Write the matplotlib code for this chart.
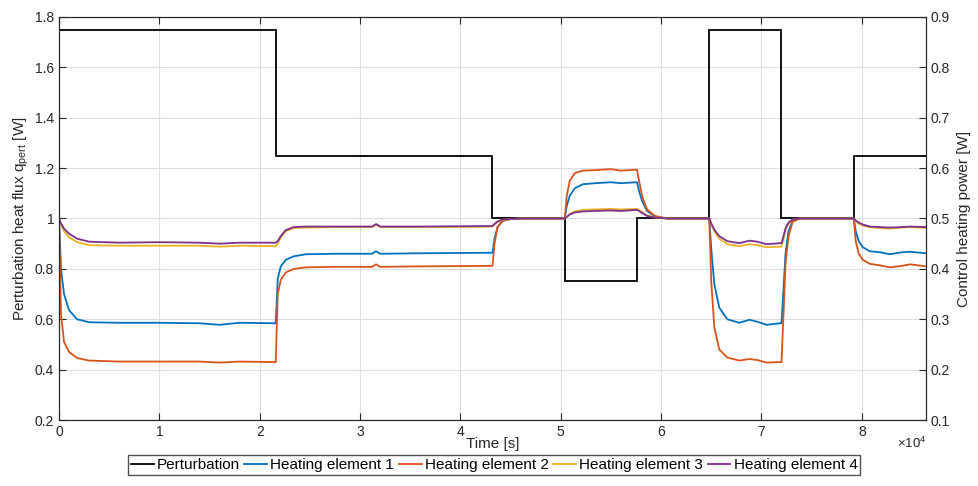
import matplotlib
matplotlib.use("Agg")
import matplotlib.pyplot as plt
from matplotlib.ticker import FuncFormatter

plt.rcParams['font.family'] = ['Liberation Sans', 'DejaVu Sans']
plt.rcParams['mathtext.fontset'] = 'custom'
plt.rcParams['mathtext.rm'] = 'Liberation Sans'
plt.rcParams['mathtext.it'] = 'Liberation Sans'

# --- perturbation schedule (left axis, W) ---
pert_edges = [0, 21600, 43200, 50400, 57600, 64800, 72000, 79200, 86400]
pert_levels = [1.75, 1.25, 1.0, 0.75, 1.0, 1.75, 1.0, 1.25]

# --- control heating power (right axis, W) ---
time_s = [
    0, 200, 500, 1000, 1800, 3000, 6000, 10000, 14000, 16000, 18000, 21500,
    21600, 21800, 22100, 22600, 23400, 24600, 27600, 31200, 31600, 32000, 36000, 43100,
    43200, 43400, 43700, 44200, 45000, 46200, 50300,
    50400, 50600, 50900, 51400, 52200, 53400, 55000, 56000, 57500,
    57600, 57800, 58100, 58600, 59400, 60600, 64700,
    64800, 65000, 65300, 65800, 66600, 67800, 68800, 69600, 70500, 71900,
    72000, 72200, 72400, 72700, 73100, 73800, 79100,
    79200, 79400, 79700, 80100, 80800, 81800, 82800, 84000, 84800, 86400,
]
heater_1 = [
    0.500, 0.400, 0.350, 0.318, 0.300, 0.294, 0.293, 0.293, 0.292, 0.289, 0.293, 0.292,
    0.292, 0.380, 0.405, 0.418, 0.425, 0.429, 0.430, 0.430, 0.435, 0.430, 0.431, 0.432,
    0.432, 0.460, 0.483, 0.495, 0.499, 0.500, 0.500,
    0.500, 0.525, 0.545, 0.560, 0.568, 0.570, 0.572, 0.570, 0.572,
    0.572, 0.555, 0.535, 0.515, 0.504, 0.500, 0.500,
    0.500, 0.440, 0.370, 0.323, 0.300, 0.293, 0.299, 0.295, 0.289, 0.292,
    0.292, 0.360, 0.430, 0.475, 0.495, 0.500, 0.500,
    0.500, 0.475, 0.455, 0.443, 0.435, 0.433, 0.429, 0.433, 0.434, 0.431,
]
heater_2 = [
    0.500, 0.310, 0.255, 0.235, 0.223, 0.218, 0.216, 0.216, 0.216, 0.214, 0.216, 0.215,
    0.215, 0.350, 0.378, 0.393, 0.400, 0.403, 0.404, 0.404, 0.409, 0.404, 0.405, 0.406,
    0.406, 0.450, 0.483, 0.495, 0.499, 0.500, 0.500,
    0.500, 0.545, 0.575, 0.590, 0.595, 0.596, 0.598, 0.595, 0.597,
    0.597, 0.575, 0.545, 0.518, 0.505, 0.500, 0.500,
    0.500, 0.375, 0.285, 0.240, 0.224, 0.218, 0.221, 0.219, 0.214, 0.215,
    0.215, 0.310, 0.410, 0.465, 0.493, 0.500, 0.500,
    0.500, 0.455, 0.430, 0.418, 0.410, 0.407, 0.403, 0.406, 0.409, 0.405,
]
heater_3 = [
    0.500, 0.488, 0.475, 0.463, 0.453, 0.447, 0.446, 0.446, 0.446, 0.444, 0.446, 0.445,
    0.445, 0.450, 0.463, 0.475, 0.481, 0.482, 0.483, 0.483, 0.488, 0.483, 0.483, 0.484,
    0.484, 0.488, 0.493, 0.497, 0.499, 0.500, 0.500,
    0.500, 0.504, 0.509, 0.514, 0.517, 0.518, 0.519, 0.518, 0.519,
    0.519, 0.517, 0.513, 0.506, 0.502, 0.500, 0.500,
    0.500, 0.490, 0.475, 0.460, 0.449, 0.445, 0.449, 0.447, 0.443, 0.444,
    0.444, 0.460, 0.478, 0.490, 0.498, 0.500, 0.500,
    0.500, 0.495, 0.490, 0.486, 0.483, 0.481, 0.480, 0.482, 0.483, 0.481,
]
heater_4 = [
    0.500, 0.490, 0.480, 0.470, 0.460, 0.454, 0.452, 0.453, 0.452, 0.450, 0.452, 0.452,
    0.452, 0.455, 0.465, 0.477, 0.483, 0.484, 0.484, 0.484, 0.489, 0.484, 0.484, 0.485,
    0.485, 0.489, 0.494, 0.498, 0.499, 0.500, 0.500,
    0.500, 0.503, 0.508, 0.512, 0.514, 0.515, 0.516, 0.515, 0.517,
    0.517, 0.515, 0.511, 0.505, 0.502, 0.500, 0.500,
    0.500, 0.490, 0.478, 0.465, 0.455, 0.451, 0.456, 0.454, 0.449, 0.451,
    0.451, 0.465, 0.480, 0.492, 0.498, 0.500, 0.500,
    0.500, 0.496, 0.492, 0.488, 0.484, 0.483, 0.482, 0.483, 0.484, 0.483,
]

heaters = [heater_1, heater_2, heater_3, heater_4]
heater_names = ["Heating element 1", "Heating element 2",
                "Heating element 3", "Heating element 4"]
heater_colors = ["#0072BD", "#D95319", "#EDB120", "#7E2F8E"]

axis_color = "#262626"
fmt = FuncFormatter(lambda v, pos: f"{v:g}")

fig = plt.figure(figsize=(9.79, 4.86), dpi=100)
ax = fig.add_axes([59 / 979, 66 / 486, 867 / 979, 403 / 486])
ax2 = ax.twinx()

# perturbation on the left axis
h_pert = ax.stairs(pert_levels, pert_edges, baseline=None,
                   color="black", linewidth=1.3, label="Perturbation")

# heating elements on the right axis
handles = [h_pert]
for vals, name, col in zip(heaters, heater_names, heater_colors):
    (h,) = ax2.plot(time_s, vals, color=col, linewidth=1.3, label=name)
    handles.append(h)

ax.set_xlim(0, 86400)
ax.set_ylim(0.2, 1.8)
ax2.set_ylim(0.1, 0.9)
ax.set_xticks([i * 10000 for i in range(9)])
ax.set_xticklabels([str(i) for i in range(9)])
ax.set_yticks([0.2 + 0.2 * i for i in range(9)])
ax2.set_yticks([0.1 + 0.1 * i for i in range(9)])
ax.yaxis.set_major_formatter(fmt)
ax2.yaxis.set_major_formatter(fmt)

ax.grid(True, color="#dedede", linewidth=0.8)
ax.set_axisbelow(True)

for a in (ax, ax2):
    for sp in a.spines.values():
        sp.set_color(axis_color)
        sp.set_linewidth(0.8)
    a.tick_params(direction="in", length=5, width=0.8, colors=axis_color,
                  labelsize=10)
ax.tick_params(top=True)

ax.set_xlabel("Time [s]", fontsize=11, color=axis_color, labelpad=-1)
ax.set_ylabel(r"Perturbation heat flux q$_{\mathrm{pert}}$ [W]",
              fontsize=11, color=axis_color, labelpad=3)
ax2.set_ylabel("Control heating power [W]", fontsize=11,
               color=axis_color, labelpad=5)

ax.text(1.0, -0.04, r"$\times10^{4}$", transform=ax.transAxes,
        ha="right", va="top", fontsize=9.5, color=axis_color)

fig.legend(handles=handles, loc="center", ncol=5,
           bbox_to_anchor=(494 / 979, 21 / 486), fontsize=11,
           frameon=True, fancybox=False, edgecolor=axis_color,
           handlelength=1.5, handletextpad=0.2, columnspacing=0.3,
           borderpad=0.2, borderaxespad=0)

fig.savefig("out.png", dpi=100)
